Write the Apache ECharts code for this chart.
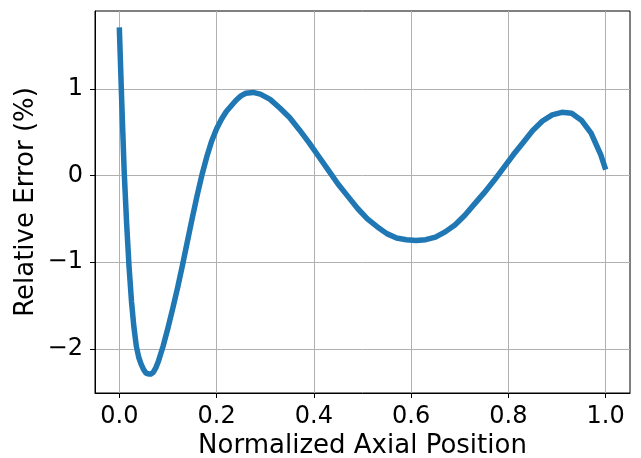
<!DOCTYPE html>
<html>
<head>
<meta charset="utf-8">
<script src="https://cdn.jsdelivr.net/npm/echarts@6/dist/echarts.min.js"></script>
<style>
  html, body { margin: 0; padding: 0; background: #fff; }
  #chart { width: 641px; height: 458px; }
</style>
</head>
<body>
<div id="chart"></div>
<script>
// Axial positions and relative error (%)
const positions = [
  0.000, 0.005, 0.010, 0.015, 0.020, 0.025, 0.030, 0.035, 0.040, 0.045,
  0.050, 0.055, 0.060, 0.065, 0.070, 0.075, 0.080, 0.090, 0.100, 0.110,
  0.120, 0.130, 0.140, 0.150, 0.160, 0.170, 0.180, 0.190, 0.200, 0.210,
  0.220, 0.240, 0.250, 0.260, 0.275, 0.290, 0.310, 0.330, 0.350, 0.370,
  0.390, 0.410, 0.430, 0.450, 0.470, 0.490, 0.510, 0.530, 0.550, 0.570,
  0.590, 0.610, 0.630, 0.650, 0.670, 0.690, 0.710, 0.730, 0.750, 0.770,
  0.790, 0.810, 0.830, 0.850, 0.870, 0.890, 0.910, 0.930, 0.950, 0.970,
  0.990, 1.000
];
const relError = [
  1.71, 0.85, 0.05, -0.55, -1.05, -1.45, -1.75, -1.97, -2.10, -2.18,
  -2.24, -2.28, -2.29, -2.29, -2.27, -2.22, -2.15, -1.97, -1.76, -1.53,
  -1.29, -1.03, -0.76, -0.49, -0.23, 0.01, 0.22, 0.40, 0.54, 0.65,
  0.74, 0.87, 0.92, 0.95, 0.96, 0.94, 0.88, 0.78, 0.67, 0.53,
  0.38, 0.22, 0.06, -0.10, -0.24, -0.38, -0.50, -0.59, -0.67, -0.72,
  -0.74, -0.75, -0.74, -0.71, -0.65, -0.57, -0.46, -0.33, -0.20, -0.06,
  0.09, 0.24, 0.38, 0.52, 0.63, 0.70, 0.73, 0.72, 0.64, 0.49,
  0.24, 0.07
];
const xTicks = [0.0, 0.2, 0.4, 0.6, 0.8, 1.0];
const yTicks = [-2, -1, 0, 1];

const chart = echarts.init(document.getElementById("chart"));
const font = "DejaVu Sans";
const minus = (v) => (v < 0 ? "\u2212" + Math.abs(v) : String(v));

const option = {
  animation: false,
  grid: {
    left: 95,
    right: 11,
    top: 11,
    bottom: 65,
    outerBoundsMode: "none",
    show: true,
    borderColor: "#000",
    borderWidth: 1,
  },
  xAxis: {
    type: "value",
    min: -0.05,
    max: 1.05,
    name: "Normalized Axial Position",
    nameLocation: "middle",
    nameGap: 40,
    nameMoveOverlap: false,
    nameTextStyle: { fontFamily: font, fontSize: 26, color: "#000" },
    axisLine: { show: true, onZero: false, lineStyle: { color: "#000", width: 1 } },
    axisTick: {
      show: true,
      inside: false,
      length: 5,
      customValues: xTicks,
      lineStyle: { color: "#000", width: 1 },
    },
    axisLabel: {
      customValues: xTicks,
      margin: 12,
      fontFamily: font,
      fontSize: 24,
      color: "#000",
      formatter: (v) => v.toFixed(1),
    },
    splitLine: { show: true, lineStyle: { color: "#b0b0b0", width: 1 } },
  },
  yAxis: {
    type: "value",
    min: -2.51,
    max: 1.9,
    name: "Relative Error (%)",
    nameLocation: "middle",
    nameGap: 56,
    nameMoveOverlap: false,
    nameTextStyle: { fontFamily: font, fontSize: 26, color: "#000" },
    axisLine: { show: true, onZero: false, lineStyle: { color: "#000", width: 1 } },
    axisTick: {
      show: true,
      inside: false,
      length: 5,
      customValues: yTicks,
      lineStyle: { color: "#000", width: 1 },
    },
    axisLabel: {
      customValues: yTicks,
      margin: 12,
      fontFamily: font,
      fontSize: 24,
      color: "#000",
      formatter: minus,
    },
    splitLine: { show: true, lineStyle: { color: "#b0b0b0", width: 1 } },
  },
  series: [
    {
      type: "line",
      data: positions.map((x, i) => [x, relError[i]]),
      showSymbol: false,
      smooth: false,
      lineStyle: { color: "#1f77b4", width: 5.5, cap: "butt", join: "round" },
    },
  ],
};

chart.setOption(option);
</script>
</body>
</html>
